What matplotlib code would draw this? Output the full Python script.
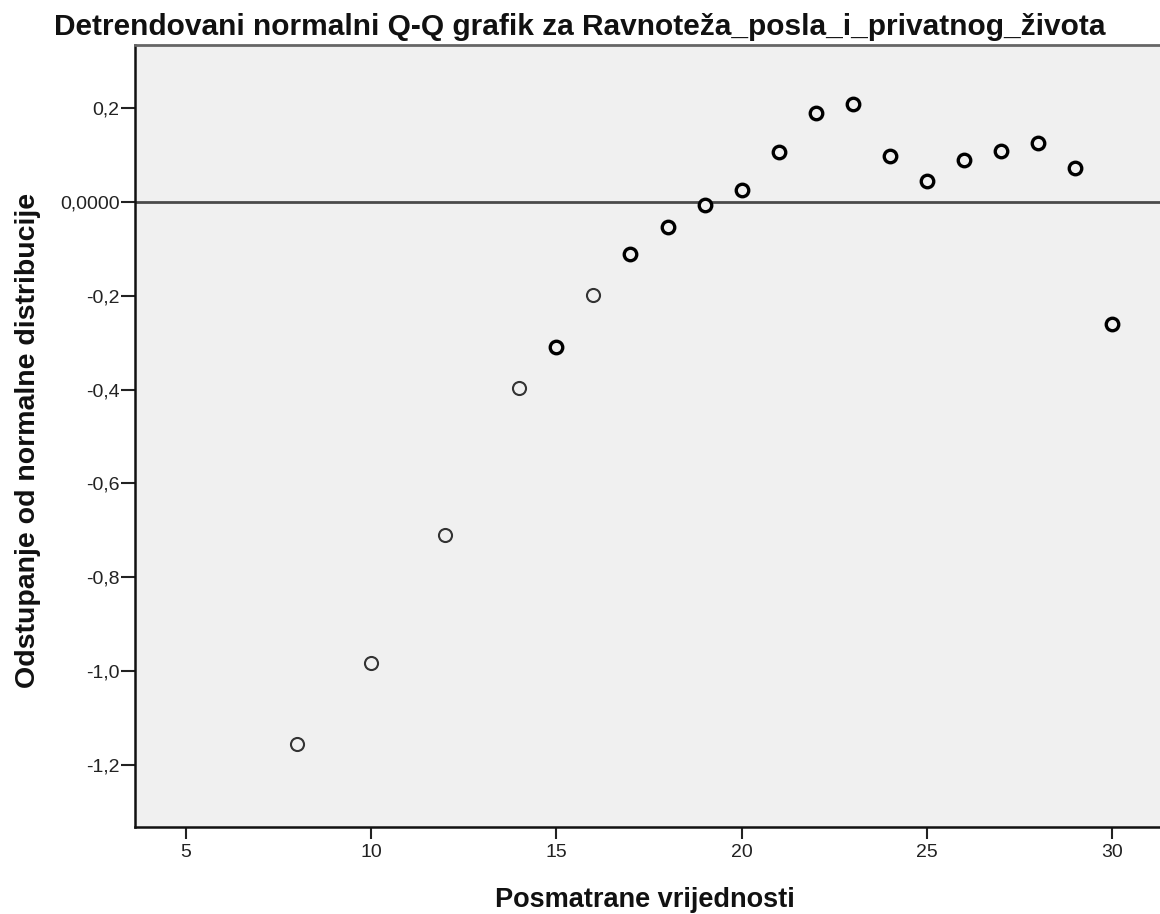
import matplotlib
matplotlib.use("Agg")
import matplotlib.pyplot as plt

# Observed values and their deviation from the normal expectation
observed = [8, 10, 12, 14, 15, 16, 17, 18, 19, 20, 21, 22, 23, 24, 25, 26, 27, 28, 29, 30]
deviation = [-1.155, -0.982, -0.711, -0.397, -0.310, -0.199, -0.112, -0.053, -0.006, 0.026,
             0.105, 0.190, 0.208, 0.098, 0.044, 0.090, 0.109, 0.125, 0.071, -0.261]
# Heavier outline for values that occur several times
heavy = [False, False, False, False, True, False, True, True, True, True,
         True, True, True, True, True, True, True, True, True, True]

x_ticks = [5, 10, 15, 20, 25, 30]
y_ticks = [0.2, 0.0, -0.2, -0.4, -0.6, -0.8, -1.0, -1.2]
y_labels = ["0,2", "0,0000", "-0,2", "-0,4", "-0,6", "-0,8", "-1,0", "-1,2"]

plt.rcParams['font.family'] = ['Liberation Sans', 'DejaVu Sans']

fig = plt.figure(figsize=(11.6, 9.14), dpi=100)
ax = fig.add_axes([0.1164, 0.0952, 0.8836, 0.8556])
ax.set_facecolor('#F0F0F0')

ax.set_xlim(3.62, 31.3)
ax.set_ylim(-1.332, 0.334)

ax.axhline(0, color='#4a4a4a', lw=2, zorder=1)

for xv, yv, h in zip(observed, deviation, heavy):
    if h:
        ax.plot(xv, yv, 'o', ms=9.0, mfc='#F0F0F0', mec='black', mew=2.4, zorder=3)
    else:
        ax.plot(xv, yv, 'o', ms=9.4, mfc='#F0F0F0', mec='#333333', mew=1.5, zorder=3)

ax.set_xticks(x_ticks)
ax.set_xticklabels([str(t) for t in x_ticks])
ax.set_yticks(y_ticks)
ax.set_yticklabels(y_labels)
ax.tick_params(axis='both', direction='out', width=1.5, color='#222222',
               labelsize=14, labelcolor='#222222')
ax.tick_params(axis='x', length=8.5, pad=4)
ax.tick_params(axis='y', length=10, pad=1)

for side in ['left', 'bottom']:
    ax.spines[side].set_color('#111111')
    ax.spines[side].set_linewidth(1.8)
ax.spines['top'].set_color('#666666')
ax.spines['top'].set_linewidth(2)
ax.spines['right'].set_visible(False)

fig.text(0.5, 1 - 35 / 914, 'Detrendovani normalni Q-Q grafik za Ravnoteža_posla_i_privatnog_života',
         ha='center', va='baseline', fontsize=21.5, fontweight='bold', color='#111111')
fig.text(645 / 1160, 1 - 907 / 914, 'Posmatrane vrijednosti', ha='center', va='baseline',
         fontsize=19.5, fontweight='bold', color='#111111')
fig.text(0.024, 1 - 440 / 914, 'Odstupanje od normalne distribucije', ha='center', va='center',
         rotation=90, fontsize=20.5, fontweight='bold', color='#111111')

fig.savefig('out.png', dpi=100)
